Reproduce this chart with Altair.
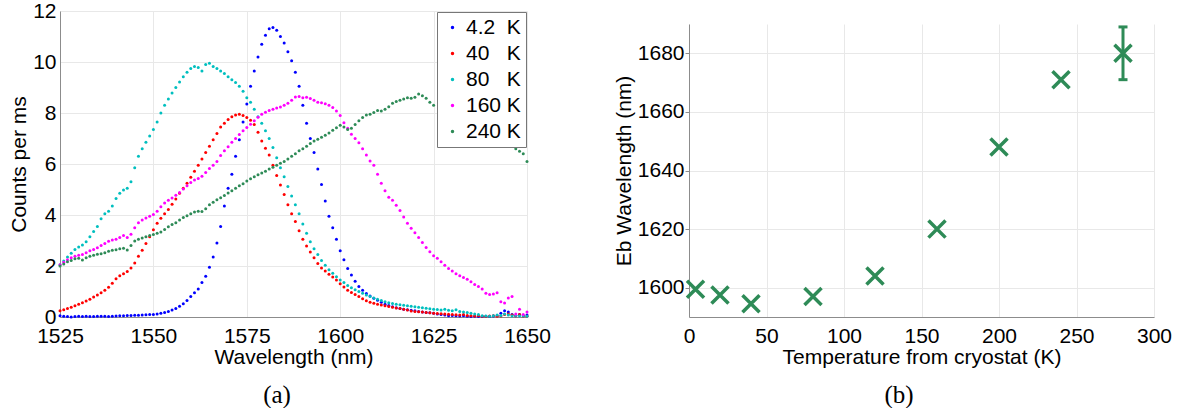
import altair as alt
import pandas as pd

# ---------------- Panel (a): spectra ----------------
wavelength_nm = list(range(1525, 1651))

counts_4K = [
    0.05, 0.03, 0.02, 0.0, 0.02, 0.03, 0.02, 0.03, 0.02, 0.02,
    0.03, 0.03, 0.03, 0.02, 0.03, 0.04, 0.05, 0.05, 0.06, 0.06,
    0.07, 0.07, 0.08, 0.09, 0.1, 0.1, 0.12, 0.15, 0.18, 0.22,
    0.27, 0.33, 0.42, 0.52, 0.65, 0.8, 0.95, 1.1, 1.35, 1.6,
    1.95, 2.35, 2.9, 3.55, 4.35, 5.05, 5.6, 6.3, 6.95, 7.65,
    8.35, 9.05, 9.65, 10.2, 10.7, 11.05, 11.3, 11.35, 11.25, 11.0,
    10.75, 10.4, 10.05, 9.6, 9.05, 8.3, 7.6, 7.0, 6.45, 5.8,
    5.2, 4.55, 3.95, 3.5, 3.05, 2.6, 2.25, 1.9, 1.65, 1.4,
    1.2, 1.05, 0.92, 0.82, 0.74, 0.66, 0.58, 0.5, 0.45, 0.4,
    0.36, 0.33, 0.3, 0.28, 0.26, 0.25, 0.22, 0.2, 0.18, 0.17,
    0.15, 0.12, 0.1, 0.08, 0.05, 0.06, 0.05, 0.04, 0.05, 0.03,
    0.02, 0.03, 0.02, 0.02, 0.03, 0.02, 0.04, 0.05, 0.15, 0.25,
    0.2, 0.1, 0.05, 0.1, 0.05, 0.08,
]
counts_40K = [
    0.25, 0.28, 0.33, 0.38, 0.44, 0.5, 0.56, 0.63, 0.7, 0.78,
    0.86, 0.95, 1.05, 1.17, 1.32, 1.5, 1.62, 1.7, 1.78, 1.92,
    2.12, 2.38, 2.62, 2.88, 3.15, 3.42, 3.68, 3.87, 4.05, 4.22,
    4.42, 4.63, 4.85, 5.05, 5.25, 5.48, 5.72, 5.95, 6.2, 6.45,
    6.7, 6.95, 7.2, 7.45, 7.6, 7.75, 7.85, 7.92, 7.95, 7.9,
    7.82, 7.72, 7.55, 7.25, 6.9, 6.62, 6.35, 5.95, 5.55, 5.18,
    4.8, 4.4, 4.05, 3.75, 3.38, 3.05, 2.78, 2.55, 2.32, 2.1,
    1.92, 1.8, 1.68, 1.57, 1.45, 1.3, 1.18, 1.05, 0.96, 0.88,
    0.8, 0.72, 0.64, 0.58, 0.54, 0.5, 0.47, 0.44, 0.41, 0.38,
    0.35, 0.33, 0.3, 0.27, 0.24, 0.22, 0.21, 0.2, 0.18, 0.17,
    0.15, 0.14, 0.13, 0.12, 0.11, 0.1, 0.09, 0.08, 0.1, 0.06,
    0.05, 0.04, 0.05, 0.03, 0.02, 0.04, 0.05, 0.03, 0.04, 0.1,
    0.12, 0.08, 0.05, 0.1, 0.04, 0.03,
]
counts_80K = [
    2.05, 2.2, 2.35, 2.5, 2.65, 2.75, 2.82, 2.95, 3.15, 3.35,
    3.55, 3.85, 4.05, 4.15, 4.35, 4.65, 4.85, 4.98, 5.05, 5.3,
    5.85, 6.3, 6.6, 6.85, 7.1, 7.35, 7.65, 8.0, 8.3, 8.55,
    8.78, 9.0, 9.22, 9.42, 9.6, 9.75, 9.82, 9.78, 9.65, 9.9,
    9.95, 9.82, 9.75, 9.65, 9.55, 9.42, 9.3, 9.2, 9.05, 8.85,
    8.6, 8.42, 8.15, 7.85, 7.6, 7.3, 7.0, 6.65, 6.25, 5.85,
    5.5, 5.12, 4.75, 4.4, 4.05, 3.65, 3.28, 2.95, 2.68, 2.45,
    2.22, 2.03, 1.85, 1.72, 1.58, 1.45, 1.35, 1.24, 1.15, 1.07,
    1.0, 0.93, 0.86, 0.8, 0.75, 0.7, 0.65, 0.6, 0.56, 0.53,
    0.5, 0.48, 0.46, 0.44, 0.42, 0.4, 0.38, 0.36, 0.34, 0.32,
    0.3, 0.29, 0.27, 0.3, 0.26, 0.25, 0.28, 0.22, 0.2, 0.18,
    0.15, 0.12, 0.1, 0.05, 0.04, 0.03, 0.05, 0.08, 0.06, 0.12,
    0.08, 0.04, 0.06, 0.04, 0.05, 0.03,
]
counts_160K = [
    2.05, 2.15, 2.25, 2.32, 2.38, 2.42, 2.45, 2.52, 2.6, 2.65,
    2.72, 2.8, 2.88, 2.97, 3.02, 3.05, 3.12, 3.2, 3.12, 3.25,
    3.5, 3.7, 3.8, 3.88, 3.95, 4.02, 4.15, 4.32, 4.47, 4.58,
    4.67, 4.77, 4.88, 5.02, 5.15, 5.27, 5.37, 5.43, 5.52, 5.67,
    5.82, 5.95, 6.1, 6.33, 6.52, 6.68, 6.85, 7.0, 7.16, 7.3,
    7.43, 7.56, 7.7, 7.83, 7.95, 8.03, 8.1, 8.15, 8.2, 8.24,
    8.3, 8.38, 8.5, 8.63, 8.65, 8.6, 8.62, 8.57, 8.5, 8.42,
    8.4, 8.36, 8.3, 8.22, 8.08, 7.9, 7.62, 7.4, 7.17, 7.0,
    6.83, 6.6, 6.35, 6.12, 5.95, 5.6, 5.25, 4.95, 4.7, 4.58,
    4.38, 4.18, 3.92, 3.68, 3.48, 3.3, 3.12, 2.92, 2.73, 2.56,
    2.4, 2.3, 2.17, 2.03, 1.9, 1.8, 1.7, 1.62, 1.55, 1.48,
    1.38, 1.27, 1.2, 1.1, 0.93, 0.88, 0.9, 0.95, 0.6, 0.55,
    0.75, 0.8, 0.12, 0.3, 0.1, 0.2,
]
# 240 K points between 1626 and 1646 nm are hidden behind the legend box
counts_240K = [
    2.0, 2.08, 2.17, 2.22, 2.28, 2.3, 2.24, 2.32, 2.38, 2.42,
    2.46, 2.48, 2.52, 2.58, 2.62, 2.64, 2.68, 2.7, 2.63, 2.8,
    2.98, 3.05, 3.1, 3.15, 3.2, 3.24, 3.28, 3.33, 3.43, 3.54,
    3.63, 3.7, 3.8, 3.9, 3.97, 4.05, 4.12, 4.15, 4.14, 4.25,
    4.4, 4.5, 4.6, 4.68, 4.76, 4.86, 4.95, 5.05, 5.15, 5.23,
    5.33, 5.42, 5.5, 5.58, 5.65, 5.72, 5.8, 5.87, 5.95, 6.03,
    6.1, 6.2, 6.3, 6.4, 6.52, 6.6, 6.7, 6.8, 6.9, 6.97,
    7.05, 7.13, 7.22, 7.32, 7.42, 7.52, 7.45, 7.35, 7.4, 7.55,
    7.7, 7.82, 7.92, 7.95, 8.02, 8.1, 8.08, 8.15, 8.25, 8.38,
    8.45, 8.5, 8.55, 8.6, 8.58, 8.62, 8.75, 8.68, 8.58, 8.42,
    8.3, None, None, None, None, None, None, None, None, None,
    None, None, None, None, None, None, None, None, None, None,
    None, None, 6.6, 6.5, 6.4, 6.1,
]

series_labels = ["4.2\u00a0\u00a0K", "40\u00a0\u00a0\u00a0K", "80\u00a0\u00a0\u00a0K", "160 K", "240 K"]
series_colors = ["#0000FF", "#FF0000", "#00BFBF", "#FF00FF", "#2E8B57"]
series_values = [counts_4K, counts_40K, counts_80K, counts_160K, counts_240K]

x_ticks_a = [1525, 1550, 1575, 1600, 1625, 1650]
y_ticks_a = [0, 2, 4, 6, 8, 10, 12]

# ---------------- Panel (b): Eb wavelength vs temperature ----------------
temps_K = [4.2, 20, 40, 80, 120, 160, 200, 240, 280]
eb_nm = [1599.5, 1597.5, 1594.5, 1597, 1604, 1620, 1648, 1671, 1680]
eb_err = [0, 0, 0, 0, 0, 0, 0, 0, 9]

x_ticks_b = [0, 50, 100, 150, 200, 250, 300]
y_ticks_b = [1600, 1620, 1640, 1660, 1680]

caption_a = "(a)"
caption_b = "(b)"

FONT = "Liberation Sans"
SERIF = "Liberation Serif"
GREEN = "#2E8B57"

rows = []
for lab, vals in zip(series_labels, series_values):
    for wl, v in zip(wavelength_nm, vals):
        if v is not None:
            rows.append({"wl": wl, "c": v, "series": lab})
spec_df = pd.DataFrame(rows)

W_A, H_A = 467, 306
W_B, H_B = 465, 293

points_a = alt.Chart(spec_df).mark_circle(size=9, opacity=1).encode(
    x=alt.X("wl:Q",
            scale=alt.Scale(domain=[1525, 1650], nice=False, zero=False),
            axis=alt.Axis(values=x_ticks_a, title="Wavelength (nm)", ticks=False,
                          labelFlush=False, labelPadding=8, titlePadding=0,
                          format="d")),
    y=alt.Y("c:Q",
            scale=alt.Scale(domain=[0, 12], nice=False),
            axis=alt.Axis(values=y_ticks_a, title="Counts per ms", ticks=False,
                          labelPadding=4, titlePadding=3)),
    color=alt.Color("series:N",
                    scale=alt.Scale(domain=series_labels, range=series_colors),
                    legend=alt.Legend(title=None, orient="none", legendX=377, legendY=1,
                                      fillColor="white", strokeColor="#777777",
                                      padding=5, labelFont=FONT, labelFontSize=21,
                                      labelColor="black", symbolType="circle",
                                      symbolSize=12, symbolOffset=0, labelOffset=3,
                                      rowPadding=4, symbolStrokeWidth=0)),
)

cap_a = alt.Chart(pd.DataFrame({"t": [caption_a]})).mark_text(
    font=SERIF, fontSize=25, align="center", baseline="middle", color="black"
).encode(text="t:N", x=alt.value(217), y=alt.value(384))

panel_a = alt.layer(points_a, cap_a).properties(width=W_A, height=H_A)

bdf = pd.DataFrame({"T": temps_K, "Eb": eb_nm, "err": eb_err})
base_b = alt.Chart(bdf)

xb = alt.X("T:Q", scale=alt.Scale(domain=[0, 300], nice=False),
           axis=alt.Axis(values=x_ticks_b, title="Temperature from cryostat (K)", ticks=False,
                         labelFlush=False, labelPadding=8, titlePadding=0, format="d"))
yb = alt.Y("Eb:Q", scale=alt.Scale(domain=[1590, 1690], nice=False, zero=False),
           axis=alt.Axis(values=y_ticks_b, title="Eb Wavelength (nm)", tickSize=4,
                         labelPadding=1, titlePadding=3, format="d"))

marks_b = base_b.mark_point(shape="M-1,-1L1,1M-1,1L1,-1", size=290, filled=False,
                            strokeWidth=3.5, color=GREEN, opacity=1).encode(x=xb, y=yb)

err_b = base_b.transform_filter("datum.err > 0").transform_calculate(
    lo="datum.Eb - datum.err", hi="datum.Eb + datum.err")
err_rule = err_b.mark_rule(color=GREEN, strokeWidth=3).encode(
    x="T:Q", y="lo:Q", y2="hi:Q")
err_lo = err_b.mark_tick(orient="horizontal", size=9, thickness=3, color=GREEN, opacity=1).encode(
    x="T:Q", y="lo:Q")
err_hi = err_b.mark_tick(orient="horizontal", size=9, thickness=3, color=GREEN, opacity=1).encode(
    x="T:Q", y="hi:Q")

cap_b = alt.Chart(pd.DataFrame({"t": [caption_b]})).mark_text(
    font=SERIF, fontSize=25, align="center", baseline="middle", color="black"
).encode(text="t:N", x=alt.value(210), y=alt.value(371))

panel_b = alt.layer(err_rule, err_lo, err_hi, marks_b, cap_b).properties(
    width=W_B, height=H_B,
)

# empty spacer that lowers panel (b) so its plot sits lower than panel (a)'s
spacer = alt.Chart(pd.DataFrame({"t": [""]})).mark_text().encode(
    text="t:N"
).properties(width=W_B, height=13)

right_col = alt.vconcat(spacer, panel_b, spacing=0)

chart = alt.hconcat(panel_a, right_col, spacing=62).properties(
    padding={"left": 8, "top": 0, "right": 0, "bottom": 0},
    background="white",
).configure_view(stroke=None).configure_axis(
    labelFont=FONT, labelFontSize=21, labelColor="black",
    titleFont=FONT, titleFontSize=21, titleColor="black", titleFontWeight="normal",
    domainColor="#8c8c8c", tickColor="#8c8c8c", gridColor="#e8e8e8",
)

chart.save("out.html", embed_options={"renderer": "svg", "actions": False})
